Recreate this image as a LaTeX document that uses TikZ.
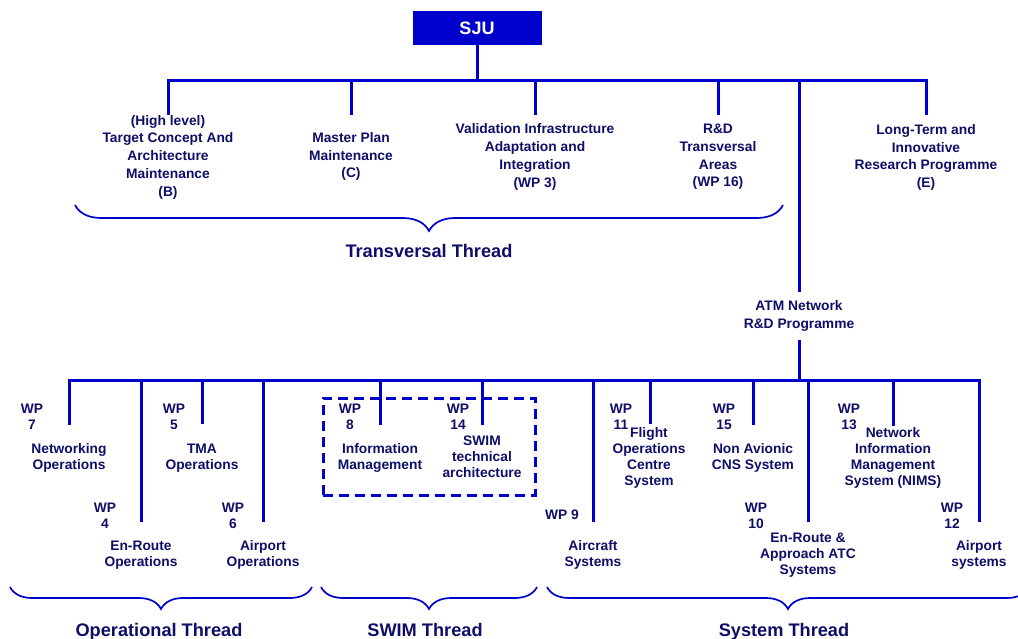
\documentclass[tikz,border=0pt]{standalone}
\usepackage{fontspec}
\setmainfont{Liberation Sans}
\usetikzlibrary{decorations.pathreplacing}

\definecolor{navytext}{RGB}{14,14,104}
\definecolor{busblue}{RGB}{0,0,204}

\tikzset{
  sjubox/.style={fill=busblue,text=white,font=\bfseries\fontsize{18}{20}\selectfont,minimum width=129pt,minimum height=34pt,inner sep=0pt},
  toptext/.style={text=navytext,font=\bfseries\fontsize{13.8}{17.75}\selectfont,align=center,inner sep=0pt},
  wptext/.style={text=navytext,font=\bfseries\fontsize{13.8}{16}\selectfont,align=center,inner sep=0pt},
  threadlabel/.style={text=navytext,font=\bfseries\fontsize{18.2}{22}\selectfont,inner sep=0pt,anchor=base},
  bus/.style={draw=busblue,line width=3pt},
  swimbox/.style={draw=busblue,line width=3pt,dash pattern=on 10pt off 6pt,minimum width=212pt,minimum height=97pt},
  threadbrace/.style={draw=busblue,line width=1.7pt,decorate,decoration={brace,mirror,amplitude=#1}},
}

\begin{document}
\begin{tikzpicture}[x=1pt,y=-1pt]
  \useasboundingbox (0,0) rectangle (1018,638);

  % top level
  \node[sjubox] (sju) at (477,28) {SJU};
  \node[toptext] (tcb)  at (168,157)   {(High level)\\Target Concept And\\Architecture\\Maintenance\\(B)};
  \node[toptext] (mpm)  at (351,156.5) {Master Plan\\Maintenance\\(C)};
  \node[toptext] (via)  at (535,157)   {Validation Infrastructure\\Adaptation and\\Integration\\(WP 3)};
  \node[toptext] (rdt)  at (718,157)   {R\&D\\Transversal\\Areas\\(WP 16)};
  \node[toptext] (ltr)  at (926,157.5) {Long-Term and\\Innovative\\Research Programme\\(E)};
  \node[toptext, inner sep=8pt] (atm) at (799,316) {ATM Network\\R\&D Programme};

  \coordinate (tbus)   at (477,80);
  \coordinate (tatm)   at (799,80);
  \coordinate (tdB)    at (168,115);
  \coordinate (tdC)    at (351,115);
  \coordinate (tdWP3)  at (535,115);
  \coordinate (tdWP16) at (718,115);
  \coordinate (tdE)    at (926,115);

  \draw[bus] (sju) -- (tbus);
  \draw[bus] (tdB) -- (tdB |- tbus) -- (tdE |- tbus) -- (tdE);
  \draw[bus] (tdC |- tbus) -- (tdC);
  \draw[bus] (tdWP3 |- tbus) -- (tdWP3);
  \draw[bus] (tdWP16 |- tbus) -- (tdWP16);
  \draw[bus] (tatm) -- (atm);

  \draw[threadbrace=26pt] (75,205) -- (783,205);
  \node[threadlabel] (trth) at (429,257.5) {Transversal Thread};

  % work packages
  \node[wptext] (wp7)    at (32,417)    {WP\\7};
  \node[wptext] (ops7)   at (69,458)    {Networking\\Operations};
  \node[wptext] (wp5)    at (174,417)   {WP\\5};
  \node[wptext] (ops5)   at (202,458)   {TMA\\Operations};
  \node[wptext] (wp4)    at (105,515.5) {WP\\4};
  \node[wptext] (ops4)   at (141,555)   {En-Route\\Operations};
  \node[wptext] (wp6)    at (233,515.5) {WP\\6};
  \node[wptext] (ops6)   at (263,555)   {Airport\\Operations};
  \node[wptext] (wp8)    at (350,417)   {WP\\8};
  \node[wptext] (im8)    at (380,457.5) {Information\\Management};
  \node[wptext] (wp14)   at (458,417)   {WP\\14};
  \node[wptext] (swim14) at (482,457)   {SWIM\\technical\\architecture};
  \node[wptext] (wp9)    at (562,515)   {WP 9};
  \node[wptext] (sys9)   at (593,554.5) {Aircraft\\Systems};
  \node[wptext] (wp11)   at (621,417)   {WP\\11};
  \node[wptext] (foc11)  at (649,458)   {Flight\\Operations\\Centre\\System};
  \node[wptext] (wp15)   at (724,417)   {WP\\15};
  \node[wptext] (cns15)  at (753,457.5) {Non Avionic\\CNS System};
  \node[wptext] (wp10)   at (756,515.5) {WP\\10};
  \node[wptext] (atc10)  at (808,555.5) {En-Route \&\\Approach ATC\\Systems};
  \node[wptext] (wp13)   at (849,417)   {WP\\13};
  \node[wptext] (nims13) at (893,458)   {Network\\Information\\Management\\System (NIMS)};
  \node[wptext] (wp12)   at (952,515.5) {WP\\12};
  \node[wptext] (sys12)  at (979,555)   {Airport\\systems};

  \node[swimbox] (swim) at (429,446.5) {};

  \coordinate (bbus) at (799,380);
  \coordinate (bd7)  at (69,425);
  \coordinate (bd4)  at (141,522);
  \coordinate (bd5)  at (202,424);
  \coordinate (bd6)  at (263,522);
  \coordinate (bd8)  at (380,425);
  \coordinate (bd14) at (482,425);
  \coordinate (bd9)  at (593,522);
  \coordinate (bd11) at (650,424);
  \coordinate (bd15) at (753,425);
  \coordinate (bd10) at (808,522);
  \coordinate (bd13) at (893,426);
  \coordinate (bd12) at (979,522);

  \draw[bus] (atm) -- (bbus);
  \draw[bus] (bd7) -- (bd7 |- bbus) -- (bd12 |- bbus) -- (bd12);
  \draw[bus] (bd4 |- bbus) -- (bd4);
  \draw[bus] (bd5 |- bbus) -- (bd5);
  \draw[bus] (bd6 |- bbus) -- (bd6);
  \draw[bus] (bd8 |- bbus) -- (bd8);
  \draw[bus] (bd14 |- bbus) -- (bd14);
  \draw[bus] (bd9 |- bbus) -- (bd9);
  \draw[bus] (bd11 |- bbus) -- (bd11);
  \draw[bus] (bd15 |- bbus) -- (bd15);
  \draw[bus] (bd10 |- bbus) -- (bd10);
  \draw[bus] (bd13 |- bbus) -- (bd13);

  % threads
  \draw[threadbrace=22pt] (10,587) -- (312,587);
  \draw[threadbrace=22pt] (321,587) -- (537,587);
  \draw[threadbrace=22pt] (547,587) -- (1029,587);
  \node[threadlabel] (opth) at (159,636) {Operational Thread};
  \node[threadlabel] (swth) at (425,636) {SWIM Thread};
  \node[threadlabel] (syth) at (784,636) {System Thread};
\end{tikzpicture}
\end{document}
